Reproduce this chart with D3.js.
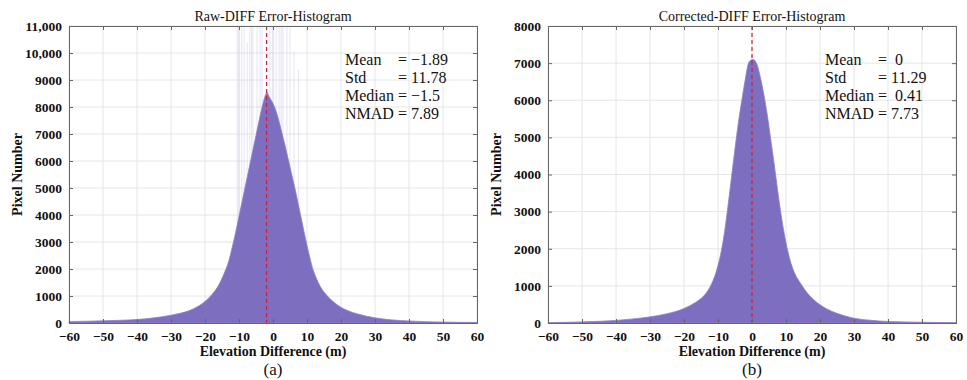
<!DOCTYPE html>
<html>
<head>
<meta charset="utf-8">
<script src="https://cdn.jsdelivr.net/npm/d3@7"></script>
<style>
  body { margin: 0; background: #fff; }
  text { font-family: "Liberation Serif", "Times New Roman", serif; fill: #111; }
</style>
</head>
<body>
<svg id="chart" width="967" height="380"></svg>
<script>
// ---- data ----
const xTicks = d3.range(-60, 61, 10);
const rawYTicks = d3.range(0, 11001, 1000);
const corrYTicks = d3.range(0, 8001, 1000);

// [elevation difference (m), pixel count]
const rawDiff = [
  [-60, 55], [-55, 65], [-50, 80], [-45, 100], [-40, 130], [-35, 190], [-30, 290],
  [-27, 370], [-25, 440], [-22, 620], [-20, 800], [-18, 1050], [-16, 1400], [-14.5, 1800],
  [-13, 2300], [-12, 2800], [-11, 3350], [-10, 3950], [-9, 4550], [-8, 5150], [-7, 5750],
  [-6, 6350], [-5, 6950], [-4, 7550], [-3, 8100], [-2.2, 8450], [-1.8, 8550], [-1.2, 8400],
  [-0.3, 8200], [0.6, 7950], [1.6, 7550], [2.6, 7050], [3.6, 6550], [4.6, 6000], [5.6, 5450],
  [6.6, 4900], [7.6, 4300], [8.6, 3700], [9.6, 3100], [10.6, 2550], [11.6, 2050], [12.6, 1700],
  [14, 1330], [16, 1000], [18, 760], [20, 580], [23, 410], [25, 330], [30, 190],
  [35, 115], [40, 75], [45, 50], [50, 35], [55, 25], [60, 20]
];
// faint single-bin spikes around the peak of the raw histogram
const rawSpikes = [
  [-10.5, 11000], [-10, 11000], [-9.2, 11000], [-8.5, 11000], [-7.6, 10000], [-6.8, 11000],
  [-6.3, 11000], [-5.9, 11000], [-4.7, 11000], [-3.8, 11000], [-3.2, 11000], [-0.9, 11000],
  [0, 11000], [0.9, 11000], [1.8, 11000], [2.4, 11000], [2.9, 11000], [4.1, 11000], [5, 11000],
  [6.2, 9700], [7.5, 9000]
];

const corrDiff = [
  [-60, 10], [-55, 18], [-50, 30], [-45, 45], [-40, 70], [-35, 110], [-30, 165],
  [-25, 250], [-20, 390], [-18, 480], [-16, 590], [-15, 660], [-14, 750], [-13, 870],
  [-12, 1030], [-11, 1250], [-10, 1550], [-9, 1950], [-8, 2500], [-7, 3200], [-6, 3950],
  [-5, 4700], [-4, 5400], [-3, 6000], [-2, 6550], [-1.2, 6950], [-0.4, 7080], [0.3, 7100],
  [1.4, 6980], [2.5, 6600], [3.5, 6150], [4.5, 5600], [5.5, 4950], [6.5, 4300], [7.5, 3600],
  [8.5, 2950], [9.5, 2400], [10.5, 1950], [11.5, 1600], [12.5, 1350], [13.5, 1180],
  [14.5, 1040], [15.5, 900], [16.5, 780], [18, 640], [20, 490], [22, 380], [25, 260],
  [30, 130], [35, 72], [40, 42], [45, 28], [50, 20], [55, 13], [60, 8]
];

const rawStats = [["Mean", "= \u22121.89"], ["Std", "= 11.78"], ["Median", "= \u22121.5"], ["NMAD = 7.89", ""]];
const corrStats = [["Mean", "=  0"], ["Std", "= 11.29"], ["Median", "=  0.41"], ["NMAD = 7.73", ""]];

const panels = [
  { x0: 69, x1: 477, y0: 26, y1: 323, yMax: 11000, yTicks: rawYTicks, title: "Raw-DIFF Error-Histogram",
    tag: "(a)", data: rawDiff, spikes: rawSpikes, mean: -1.89, stats: rawStats, statsX: 345, eqX: 398, clip: "clipA" },
  { x0: 548, x1: 956, y0: 26, y1: 323, yMax: 8000, yTicks: corrYTicks, title: "Corrected-DIFF Error-Histogram",
    tag: "(b)", data: corrDiff, spikes: [], mean: 0, stats: corrStats, statsX: 825, eqX: 878, clip: "clipB" }
];

const PURPLE = "#7e6ec0";
const svg = d3.select("#chart");
const yFmt = d => d >= 10000 ? d3.format(",")(d) : String(d);

panels.forEach(p => {
  const x = d3.scaleLinear().domain([-60, 60]).range([p.x0, p.x1]);
  const y = d3.scaleLinear().domain([0, p.yMax]).range([p.y1, p.y0]);
  const g = svg.append("g");

  g.append("clipPath").attr("id", p.clip).append("rect")
    .attr("x", p.x0).attr("y", p.y0).attr("width", p.x1 - p.x0).attr("height", p.y1 - p.y0);

  // grid
  g.append("g").selectAll("line").data(xTicks).join("line")
    .attr("x1", d => x(d)).attr("x2", d => x(d)).attr("y1", p.y0).attr("y2", p.y1)
    .attr("stroke", "#e6e6e6").attr("stroke-width", 1);
  g.append("g").selectAll("line").data(p.yTicks).join("line")
    .attr("x1", p.x0).attr("x2", p.x1).attr("y1", d => y(d)).attr("y2", d => y(d))
    .attr("stroke", "#e6e6e6").attr("stroke-width", 1);

  // faint spikes
  g.append("g").attr("clip-path", `url(#${p.clip})`).selectAll("line").data(p.spikes).join("line")
    .attr("x1", d => x(d[0])).attr("x2", d => x(d[0]))
    .attr("y1", y(0)).attr("y2", d => y(d[1]) - 10)
    .attr("stroke", "#c2bae6").attr("stroke-opacity", 0.4).attr("stroke-width", 1);

  // histogram envelope
  const area = d3.area().x(d => x(d[0])).y0(y(0)).y1(d => y(d[1])).curve(d3.curveMonotoneX);
  g.append("path").datum(p.data).attr("d", area)
    .attr("fill", PURPLE).attr("stroke", "#8f80cc").attr("stroke-width", 0.8);

  // mean line
  g.append("line").attr("x1", x(p.mean)).attr("x2", x(p.mean)).attr("y1", p.y0).attr("y2", p.y1)
    .attr("stroke", "#d0203a").attr("stroke-width", 1.2).attr("stroke-dasharray", "4,3");

  // axes (MATLAB style box with inward ticks)
  const axB = g.append("g").attr("transform", `translate(0,${p.y1})`)
    .call(d3.axisBottom(x).tickValues(xTicks).tickSize(-4).tickPadding(8));
  const axT = g.append("g").attr("transform", `translate(0,${p.y0})`)
    .call(d3.axisTop(x).tickValues(xTicks).tickSize(-4).tickFormat(""));
  const axL = g.append("g").attr("transform", `translate(${p.x0},0)`)
    .call(d3.axisLeft(y).tickValues(p.yTicks).tickSize(-4).tickPadding(7).tickFormat(yFmt));
  const axR = g.append("g").attr("transform", `translate(${p.x1},0)`)
    .call(d3.axisRight(y).tickValues(p.yTicks).tickSize(-4).tickFormat(""));
  [axB, axT, axL, axR].forEach(a => {
    a.select(".domain").attr("stroke", "#666").attr("stroke-width", 1);
    a.selectAll(".tick line").attr("stroke", "#666");
    a.selectAll("text").attr("font-family", "Liberation Serif").attr("font-weight", "bold")
      .attr("font-size", 13.5).attr("fill", "#111");
  });

  // titles and labels
  g.append("text").attr("x", x(0)).attr("y", p.y0 - 5).attr("text-anchor", "middle")
    .attr("font-size", 14).text(p.title);
  g.append("text").attr("x", x(0)).attr("y", 356).attr("text-anchor", "middle")
    .attr("font-size", 14).attr("font-weight", "bold").text("Elevation Difference (m)");
  g.append("text").attr("x", x(0)).attr("y", 375).attr("text-anchor", "middle")
    .attr("font-size", 17).text(p.tag);
  g.append("text").attr("transform", `translate(${p.x0 - 47},${(p.y0 + p.y1) / 2}) rotate(-90)`)
    .attr("text-anchor", "middle").attr("font-size", 14).attr("font-weight", "bold").text("Pixel Number");

  // stats box
  p.stats.forEach((s, i) => {
    const yy = 65 + i * 18;
    g.append("text").attr("x", p.statsX).attr("y", yy).attr("font-size", 16)
      .style("white-space", "pre").text(s[0]);
    if (s[1]) g.append("text").attr("x", p.eqX).attr("y", yy).attr("font-size", 16)
      .style("white-space", "pre").text(s[1]);
  });
});
</script>
</body>
</html>
